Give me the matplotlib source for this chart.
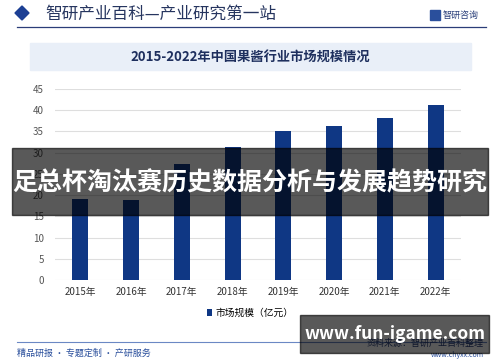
import matplotlib
matplotlib.use("Agg")
import matplotlib.pyplot as plt
from matplotlib.patches import Rectangle, Polygon

plt.rcParams['font.family'] = ['Noto Sans CJK SC', 'DejaVu Sans']

years = ['2015年', '2016年', '2017年', '2018年', '2019年', '2020年', '2021年', '2022年']
market_size = [19.0, 18.8, 27.3, 31.3, 35.2, 36.2, 38.1, 41.3]
series_name = '市场规模（亿元）'
y_ticks = [0, 5, 10, 15, 20, 25, 30, 35, 40, 45]

W, H = 500, 362
navy = '#0f3784'
dark = '#1e2f5e'


def fx(px):
    return px / W


def fy(py):
    return 1 - py / H


fig = plt.figure(figsize=(5, 3.62), dpi=100)
fig.patch.set_facecolor('white')

# header
fig.patches.append(Polygon([(fx(15), fy(13)), (fx(22), fy(6)), (fx(29), fy(13)), (fx(22), fy(20))],
                           closed=True, transform=fig.transFigure, color='#1c3f94'))
fig.text(fx(45), fy(14), '智研产业百科—产业研究第一站', fontsize=12, color='#26355f',
         va='center', ha='left', fontweight='medium')
fig.patches.append(Rectangle((fx(430), fy(20)), fx(10), 10 / H, transform=fig.transFigure,
                             color='#2a4f9c'))
fig.text(fx(443), fy(15), '智研咨询', fontsize=6.5, color='#2a3f7a', va='center', ha='left')
fig.lines.append(plt.Line2D([fx(17), fx(486)], [fy(27), fy(27)], transform=fig.transFigure,
                            color='#2b3d78', lw=0.9))

# title box
fig.patches.append(Rectangle((fx(30), fy(70)), fx(441), 27 / H, transform=fig.transFigure,
                             color='#e9eff8', zorder=0))
fig.text(fx(250), fy(58), '2015-2022年中国果酱行业市场规模情况', fontsize=9.5, color=dark,
         ha='center', va='center', fontweight='bold')

# chart
ax = fig.add_axes([fx(55), fy(280), fx(406), (280 - 89) / H])
x = range(len(years))
ax.bar(x, market_size, width=0.32, color=navy, label=series_name, zorder=3)
ax.set_xlim(-0.5, len(years) - 0.5)
ax.set_ylim(0, 45)
ax.set_yticks(y_ticks)
ax.set_xticks(list(x))
ax.set_xticklabels(years)
ax.yaxis.grid(True, color='#dedede', lw=0.8, zorder=0)
for s in ax.spines.values():
    s.set_visible(False)
ax.tick_params(axis='both', length=0, labelsize=7, colors='#555555')
ax.tick_params(axis='y', pad=8)
ax.tick_params(axis='x', pad=5)
for lab in ax.get_xticklabels():
    lab.set_color('#333333')

fig.legend(loc='center', bbox_to_anchor=(fx(250), fy(313)), frameon=False, fontsize=7,
           handlelength=0.6, handleheight=0.6, handletextpad=0.3)

# footer
fig.lines.append(plt.Line2D([fx(17), fx(486)], [fy(342), fy(342)], transform=fig.transFigure,
                            color='#6b88c4', lw=0.8))
fig.text(fx(17), fy(353), '精品研报 · 专题定制 · 产研服务', fontsize=6.5, color='#2a4f9c',
         ha='left', va='center')
fig.text(fx(484), fy(343), '资料来源：智研产业百科整理', fontsize=6.5, color='#2a3f7a',
         ha='right', va='center')
fig.text(fx(484), fy(355), 'www.chyxx.com', fontsize=5, color='#2a4f9c', ha='right', va='center')

# overlay banners
fig.patches.append(Rectangle((fx(12), fy(215)), fx(476), 67 / H, transform=fig.transFigure,
                             color='black', alpha=0.65, zorder=10))
fig.text(fx(250), fy(183), '足总杯淘汰赛历史数据分析与发展趋势研究', fontsize=18, color='white',
         ha='center', va='center', fontweight='bold', zorder=11)
fig.patches.append(Rectangle((fx(300), fy(353)), fx(189), 38 / H, transform=fig.transFigure,
                             color='black', alpha=0.65, zorder=10))
fig.text(fx(395), fy(334), 'www.fun-igame.com', fontsize=12.5, color='white',
         ha='center', va='center', fontweight='bold', zorder=11)

fig.savefig('out.png', dpi=100)
